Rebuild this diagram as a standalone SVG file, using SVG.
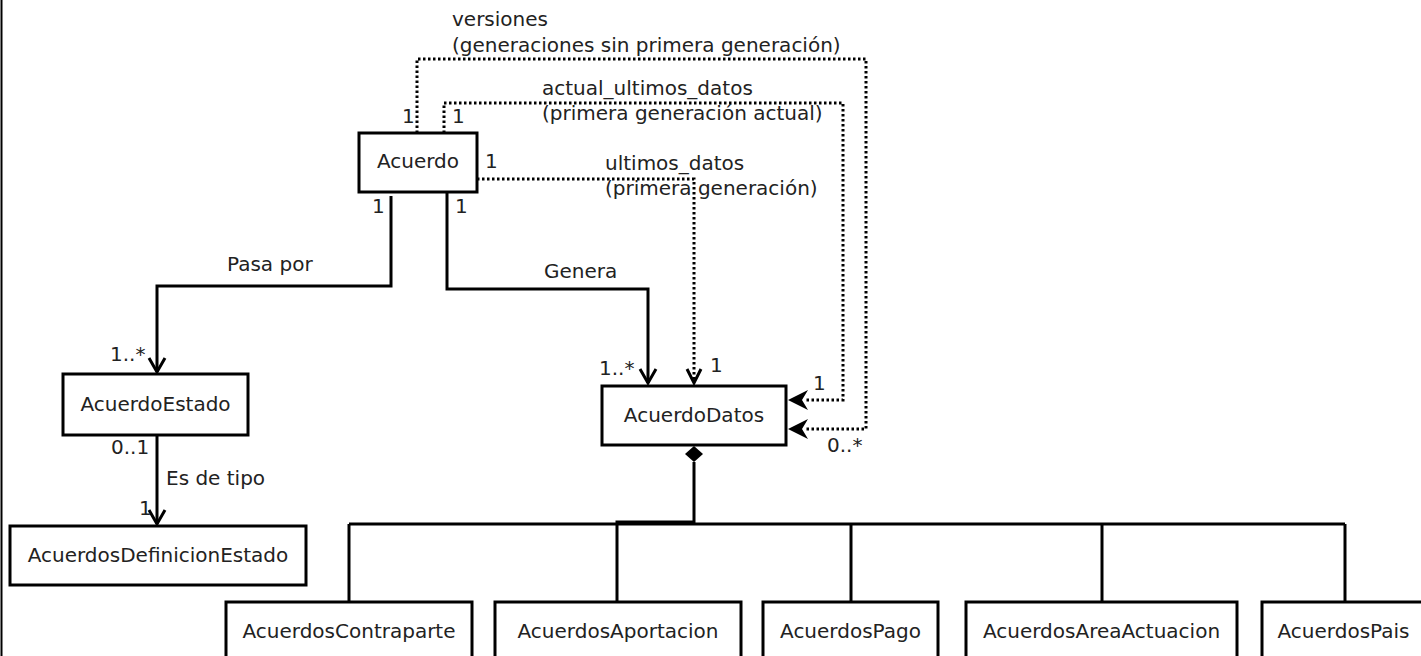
<svg xmlns="http://www.w3.org/2000/svg" width="1421" height="656" viewBox="0 0 1421 656">
<defs>
<style>
text{font-family:"DejaVu Sans","Liberation Sans",sans-serif;font-size:20px;fill:#222}
.n text{text-anchor:middle}
.n rect{fill:#fff;stroke:#000;stroke-width:3}
.s{fill:none;stroke:#000;stroke-width:3}
.d{fill:none;stroke:#000;stroke-width:3;stroke-dasharray:2.5 2.5}
.oa{fill:none;stroke:#000;stroke-width:3;stroke-linejoin:miter}
.fa{fill:#000;stroke:none}
</style>
</defs>
<rect width="1421" height="656" fill="#fff"/>
<line x1="1.5" y1="0" x2="1.5" y2="656" stroke="#000" stroke-width="2"/>

<g id="connectors">
  <!-- versiones -->
  <polyline class="d" points="417,133 417,59 866,59 866,429 806,429"/>
  <polygon class="fa" points="788,429 808,419 802,429 808,439"/>
  <!-- actual_ultimos_datos -->
  <polyline class="d" points="444,133 444,103 843,103 843,400 806,400"/>
  <polygon class="fa" points="788,400 808,390 802,400 808,410"/>
  <!-- ultimos_datos -->
  <polyline class="d" points="477,179 694,179 694,382"/>
  <polyline class="oa" points="687,369 694,383 701,369"/>
  <!-- Pasa por -->
  <polyline class="s" points="391,196 391,286 157,286 157,372"/>
  <polyline class="oa" points="149,358 157,372 165,358"/>
  <!-- Genera -->
  <polyline class="s" points="447,192 447,289 648,289 648,383"/>
  <polyline class="oa" points="640,369 648,383 656,369"/>
  <!-- Es de tipo -->
  <polyline class="s" points="157,435 157,524"/>
  <polyline class="oa" points="149,510 157,524 165,510"/>
  <!-- composition -->
  <polygon points="694,446 703,454 694,462 685,454" fill="#000"/>
  <polyline class="s" points="694,462 694,522 617,522 617,602"/>
  <line class="s" x1="349" y1="524" x2="1345" y2="524"/>
  <line class="s" x1="349" y1="524" x2="349" y2="602"/>
  <line class="s" x1="851" y1="524" x2="851" y2="602"/>
  <line class="s" x1="1102" y1="524" x2="1102" y2="602"/>
  <line class="s" x1="1345" y1="524" x2="1345" y2="602"/>

  <g id="labels">
    <text x="452" y="26">versiones</text>
    <text x="452" y="52">(generaciones sin primera generación)</text>
    <text x="542" y="95">actual_ultimos_datos</text>
    <text x="542" y="120">(primera generación actual)</text>
    <text x="605" y="170">ultimos_datos</text>
    <text x="605" y="195">(primera generación)</text>
    <text x="402" y="123">1</text>
    <text x="452" y="123">1</text>
    <text x="485" y="168">1</text>
    <text x="372" y="213">1</text>
    <text x="455" y="213">1</text>
    <text x="227" y="271">Pasa por</text>
    <text x="544" y="278">Genera</text>
    <text x="110" y="361">1..*</text>
    <text x="599" y="375">1..*</text>
    <text x="710" y="372">1</text>
    <text x="813" y="390">1</text>
    <text x="827" y="452">0..*</text>
    <text x="111" y="454">0..1</text>
    <text x="166" y="485">Es de tipo</text>
    <text x="139" y="515">1</text>
  </g>
</g>

<g id="Acuerdo" class="n"><rect x="359" y="133" width="118" height="59"/><text x="418" y="168">Acuerdo</text></g>
<g id="AcuerdoEstado" class="n"><rect x="63" y="374" width="185" height="61"/><text x="155.5" y="411">AcuerdoEstado</text></g>
<g id="AcuerdosDefinicionEstado" class="n"><rect x="10" y="526" width="296" height="59"/><text x="158" y="562">AcuerdosDefinicionEstado</text></g>
<g id="AcuerdoDatos" class="n"><rect x="602" y="386" width="184" height="59"/><text x="694" y="422">AcuerdoDatos</text></g>
<g id="AcuerdosContraparte" class="n"><rect x="226" y="602" width="246" height="80"/><text x="349" y="638">AcuerdosContraparte</text></g>
<g id="AcuerdosAportacion" class="n"><rect x="495" y="602" width="246" height="80"/><text x="618" y="638">AcuerdosAportacion</text></g>
<g id="AcuerdosPago" class="n"><rect x="763" y="602" width="175" height="80"/><text x="850.5" y="638">AcuerdosPago</text></g>
<g id="AcuerdosAreaActuacion" class="n"><rect x="966" y="602" width="271" height="80"/><text x="1101.5" y="638">AcuerdosAreaActuacion</text></g>
<g id="AcuerdosPais" class="n"><rect x="1262" y="602" width="180" height="80"/><text x="1343.5" y="638">AcuerdosPais</text></g>
</svg>
